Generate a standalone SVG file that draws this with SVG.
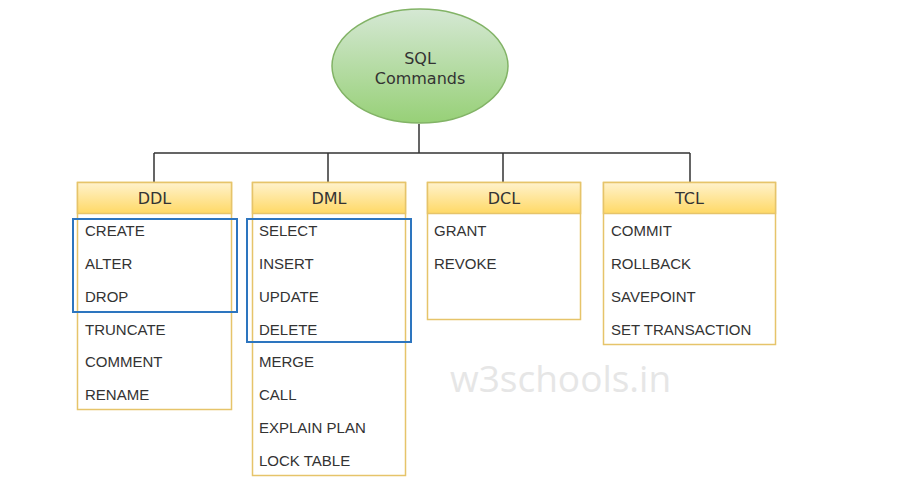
<svg xmlns="http://www.w3.org/2000/svg" width="910" height="497" viewBox="0 0 910 497">
<defs>
<linearGradient id="gEl" x1="0" y1="0" x2="0" y2="1"><stop offset="0" stop-color="#d5e8d4"/><stop offset="1" stop-color="#97d077"/></linearGradient>
<linearGradient id="gHd" x1="0" y1="0" x2="0" y2="1"><stop offset="0" stop-color="#fff2cc"/><stop offset="1" stop-color="#ffd966"/></linearGradient>
</defs>
<style>
.hd{fill:url(#gHd);stroke:#e6c46a;stroke-width:1.5}
.bd{fill:#fff;stroke:#e6c46a;stroke-width:1.5}
.ht{font-family:"DejaVu Sans",Verdana,sans-serif;font-size:16px;fill:#333;text-anchor:middle}
.it{font-family:"Liberation Sans",Arial,sans-serif;font-size:15px;fill:#333}
.sel{fill:none;stroke:#2d75bf;stroke-width:2}
.cn{fill:none;stroke:#333;stroke-width:1.5}
</style>
<rect width="910" height="497" fill="#fff"/>
<g id="connectors">
<path class="cn" d="M419 124V153M154 153H690M154 153V182M328 153V182M503 153V182M690 153V182"/>
</g>
<g id="root">
<ellipse cx="420" cy="66" rx="88" ry="57" fill="url(#gEl)" stroke="#82b366" stroke-width="1.5"/>
<text class="ht" x="420" y="64" font-size="17">SQL</text>
<text class="ht" x="420" y="84" font-size="17">Commands</text>
</g>
<g id="ddl">
<rect class="bd" x="77.5" y="182.5" width="154" height="227"/>
<rect class="hd" x="77.5" y="182.5" width="154" height="31"/>
<text class="ht" x="154.5" y="204">DDL</text>
<text class="it" x="85" y="236">CREATE</text>
<text class="it" x="85" y="269">ALTER</text>
<text class="it" x="85" y="302">DROP</text>
<text class="it" x="85" y="335">TRUNCATE</text>
<text class="it" x="85" y="367">COMMENT</text>
<text class="it" x="85" y="400">RENAME</text>
<rect class="sel" x="73" y="219" width="164" height="93"/>
</g>
<g id="dml">
<rect class="bd" x="252.5" y="182.5" width="153" height="293"/>
<rect class="hd" x="252.5" y="182.5" width="153" height="31"/>
<text class="ht" x="329" y="204">DML</text>
<text class="it" x="259" y="236">SELECT</text>
<text class="it" x="259" y="269">INSERT</text>
<text class="it" x="259" y="302">UPDATE</text>
<text class="it" x="259" y="335">DELETE</text>
<text class="it" x="259" y="367">MERGE</text>
<text class="it" x="259" y="400">CALL</text>
<text class="it" x="259" y="433">EXPLAIN PLAN</text>
<text class="it" x="259" y="466">LOCK TABLE</text>
<rect class="sel" x="247" y="219" width="164" height="123"/>
</g>
<g id="dcl">
<rect class="bd" x="427.5" y="182.5" width="153" height="137"/>
<rect class="hd" x="427.5" y="182.5" width="153" height="31"/>
<text class="ht" x="504" y="204">DCL</text>
<text class="it" x="434" y="236">GRANT</text>
<text class="it" x="434" y="269">REVOKE</text>
</g>
<g id="tcl">
<rect class="bd" x="603.5" y="182.5" width="172" height="162"/>
<rect class="hd" x="603.5" y="182.5" width="172" height="31"/>
<text class="ht" x="689.5" y="204">TCL</text>
<text class="it" x="611" y="236">COMMIT</text>
<text class="it" x="611" y="269">ROLLBACK</text>
<text class="it" x="611" y="302">SAVEPOINT</text>
<text class="it" x="611" y="335">SET TRANSACTION</text>
</g>
<text x="450" y="392" font-family="'Open Sans',sans-serif" font-size="37" fill="#e6e6e6">w3schools.in</text>
</svg>
